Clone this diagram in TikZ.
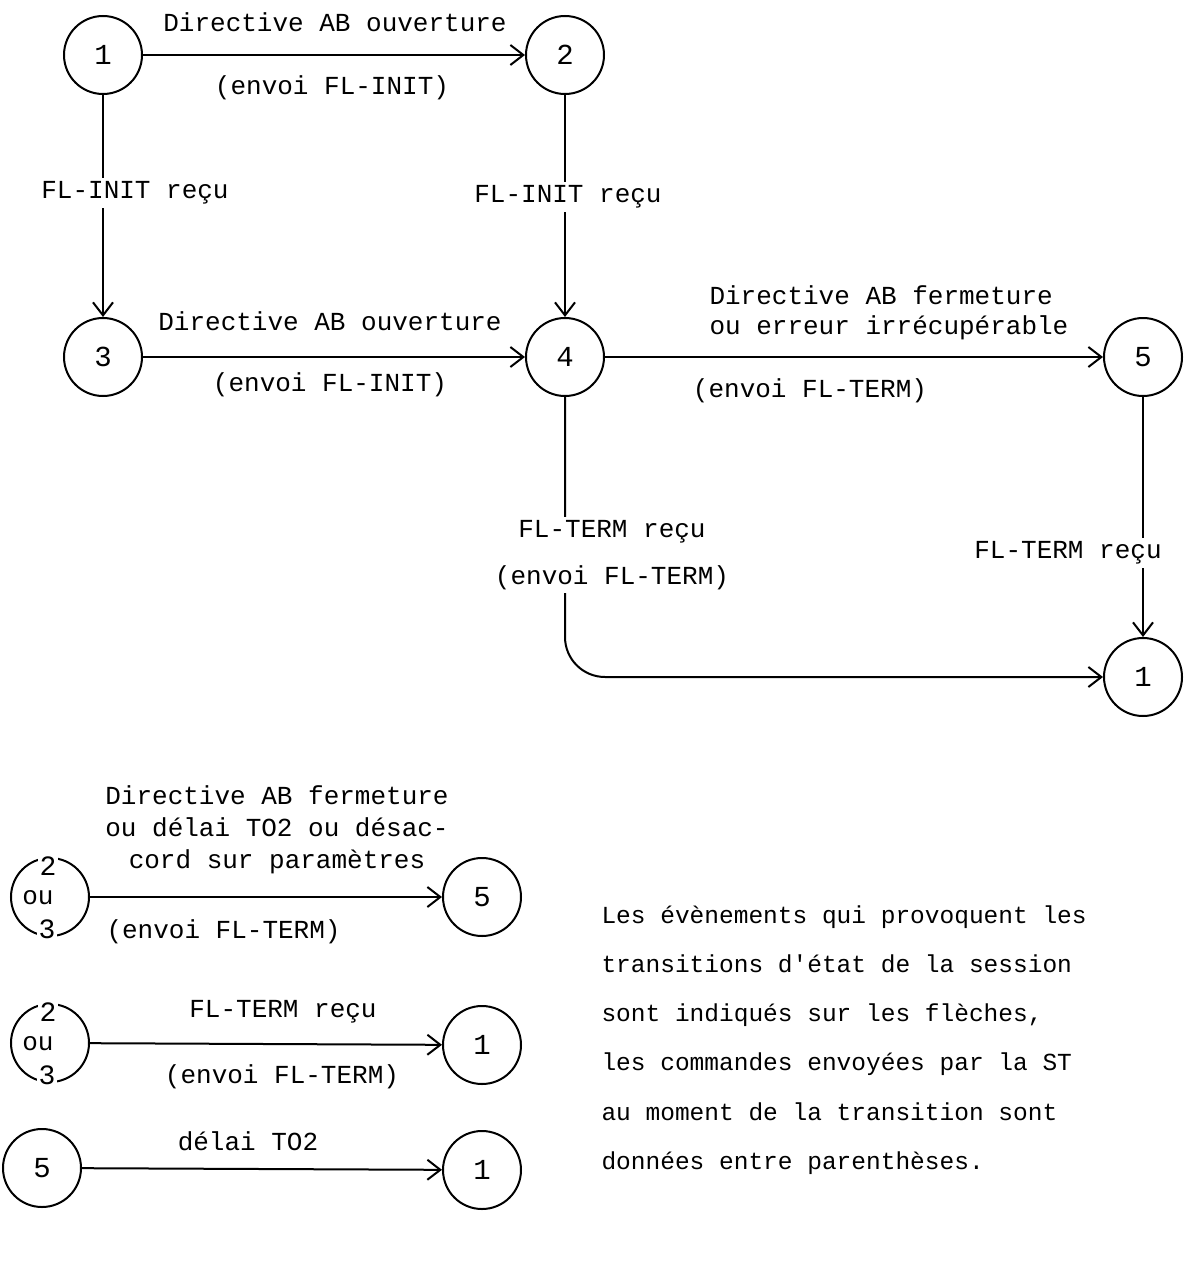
\documentclass[tikz,border=0pt]{standalone}
\usepackage{fontspec}
\newfontfamily\plotfont{Liberation Mono}
\usetikzlibrary{arrows.meta}
\begin{document}
\begin{tikzpicture}[x=1pt,y=-1pt,
  every node/.style={font=\plotfont\fontsize{26}{30}\selectfont},
  state/.style={draw, circle, line width=2pt, minimum size=78pt, inner sep=0pt,
    font=\plotfont\fontsize{29}{30}\selectfont},
  link/.style={line width=2pt, -{Straight Barb[length=13pt,width=20pt,line width=2pt]}},
  cut/.style={fill=white, inner xsep=2pt, inner ysep=4pt},
  digit/.style={fill=white, inner sep=1.5pt, font=\plotfont\fontsize{28}{30}\selectfont}]
\useasboundingbox (0,0) rectangle (1189,1268);

% session states
\node[state] (s1)  at (103,55)   {1};
\node[state] (s2)  at (565,55)   {2};
\node[state] (s3)  at (103,357)  {3};
\node[state] (s4)  at (565,357)  {4};
\node[state] (s5)  at (1143,357) {5};
\node[state] (s1b) at (1143,677) {1};

% transitions
\draw[link] (s1) -- (s2);
\draw[link] (s1) -- (s3);
\draw[link] (s2) -- (s4);
\draw[link] (s3) -- (s4);
\draw[link] (s4) -- (s5);
\draw[link] (s5) -- (s1b);
\draw[link, rounded corners=40pt] (s4) |- (s1b);

% transition labels
\node at (335,22) {Directive AB ouverture};
\node at (332,88) {(envoi FL-INIT)};
\node[cut] at (135,193) {FL-INIT reçu};
\node[cut] at (568,197) {FL-INIT reçu};
\node at (330,321) {Directive AB ouverture};
\node at (330,385) {(envoi FL-INIT)};
\node[align=left, anchor=west] at (706,313) {Directive AB fermeture\\ou erreur irrécupérable};
\node at (810,391) {(envoi FL-TERM)};
\node[cut, align=center, inner ysep=3pt, font=\plotfont\fontsize{26}{47}\selectfont] at (612,555)
  {FL-TERM reçu\\(envoi FL-TERM)};
\node[cut] at (1068,553) {FL-TERM reçu};

% 2 ou 3 -> 5
\node[state] (a23) at (50,897) {};
\node[digit] at (48,866) {2};
\node at (38,898) {ou};
\node[digit] at (47,929) {3};
\node[state] (a5) at (482,897) {5};
\draw[link] (a23) -- (a5);
\node[align=center] at (277,830) {Directive AB fermeture\\[2pt]ou délai TO2 ou désac-\\[2pt]cord sur paramètres};
\node[anchor=west] at (103,932) {(envoi FL-TERM)};

% 2 ou 3 -> 1
\node[state] (b23) at (50,1043) {};
\node[digit] at (48,1012) {2};
\node at (38,1044) {ou};
\node[digit] at (47,1075) {3};
\node[state] (b1) at (482,1045) {1};
\draw[link] (b23) -- (b1);
\node at (283,1012) {FL-TERM reçu};
\node at (282,1077) {(envoi FL-TERM)};

% 5 -> 1
\node[state] (c5) at (42,1168) {5};
\node[state] (c1) at (482,1170) {1};
\draw[link] (c5) -- (c1);
\node at (248,1141) {délai TO2};

% legend
\node[anchor=north west, align=left, font=\plotfont\fontsize{24.5}{49.2}\selectfont] (legend) at (598,902)
  {Les évènements qui provoquent les\\
   transitions d'état de la session\\
   sont indiqués sur les flèches,\\
   les commandes envoyées par la ST\\
   au moment de la transition sont\\
   données entre parenthèses.};
\end{tikzpicture}
\end{document}
